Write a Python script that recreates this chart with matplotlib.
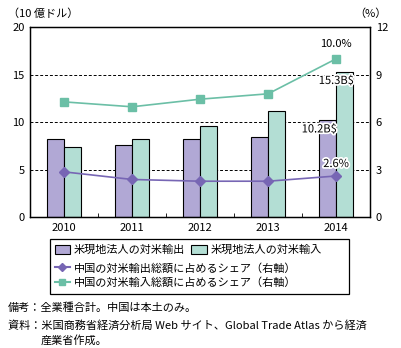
"""China-related US affiliate trade with the US, bars plus share lines on a twin axis."""

import matplotlib.pyplot as plt
import matplotlib.patheffects as pe
from matplotlib.lines import Line2D
from matplotlib.patches import Patch
import numpy as np

plt.rcParams['font.family'] = ['Noto Sans CJK JP', 'DejaVu Sans']
plt.rcParams['font.size'] = 8

YEARS = ["2010", "2011", "2012", "2013", "2014"]
EXPORTS = [8.2, 7.6, 8.2, 8.4, 10.2]      # 10億ドル
IMPORTS = [7.4, 8.2, 9.6, 11.2, 15.3]     # 10億ドル
EXPORT_SHARE = [2.86, 2.38, 2.27, 2.27, 2.6]   # %
IMPORT_SHARE = [7.28, 6.97, 7.45, 7.79, 10.0]  # %

C_EXP_BAR = "#b1a8d5"
C_IMP_BAR = "#b3ded4"
C_EXP_LINE = "#7766b4"
C_IMP_LINE = "#6bbfa6"

fig = plt.figure(figsize=(4.01, 3.48), dpi=100)
ax = fig.add_axes([0.075, 0.376, 0.848, 0.546])
ax2 = ax.twinx()

x = np.arange(len(YEARS))
w = 0.25
ax.bar(x - w / 2, EXPORTS, w, color=C_EXP_BAR, edgecolor="black", linewidth=0.8, zorder=2)
ax.bar(x + w / 2, IMPORTS, w, color=C_IMP_BAR, edgecolor="black", linewidth=0.8, zorder=2)

ax.set_ylim(0, 20)
ax.set_yticks([0, 5, 10, 15, 20])
ax.set_xlim(-0.5, 4.5)
ax.set_xticks(x)
ax.set_xticklabels(YEARS)
ax.set_xticks(np.arange(-0.5, 5.0, 1.0), minor=True)
ax.tick_params(axis="x", which="major", length=0, pad=4)
ax.tick_params(axis="x", which="minor", length=3, direction="in")
ax.tick_params(axis="y", length=0, pad=4)
for yv in [5, 10, 15]:
    ax.axhline(yv, color="black", linestyle=(0, (3, 2)), linewidth=0.7, zorder=1)

ax2.plot(x, EXPORT_SHARE, color=C_EXP_LINE, marker="D", markersize=5, linewidth=1.2, zorder=3)
ax2.plot(x, IMPORT_SHARE, color=C_IMP_LINE, marker="s", markersize=6, linewidth=1.2, zorder=3)
ax2.set_ylim(0, 12)
ax2.set_yticks([0, 3, 6, 9, 12])
ax2.tick_params(axis="y", length=0, pad=4)
ax.set_zorder(ax2.get_zorder() - 1)
ax.patch.set_visible(True)
ax2.patch.set_visible(False)

for a in (ax, ax2):
    for s in a.spines.values():
        s.set_linewidth(0.9)

halo = [pe.withStroke(linewidth=2.5, foreground="white")]
ax2.annotate(f"{IMPORT_SHARE[4]:.1f}%", (x[4], IMPORT_SHARE[4]), xytext=(0, 7),
             textcoords="offset points", ha="center", va="bottom", fontsize=8)
ax2.annotate(f"{EXPORT_SHARE[4]:.1f}%", (x[4], EXPORT_SHARE[4]), xytext=(0, 5),
             textcoords="offset points", ha="center", va="bottom", fontsize=8,
             path_effects=halo)
ax.annotate(f"{IMPORTS[4]:.1f}B$", (x[4] + w / 2, IMPORTS[4]), xytext=(-6, -3),
            textcoords="offset points", ha="center", va="top", fontsize=8,
            path_effects=halo, zorder=5)
ax.annotate(f"{EXPORTS[4]:.1f}B$", (x[4] - w / 2, EXPORTS[4]), xytext=(-6, -3),
            textcoords="offset points", ha="center", va="top", fontsize=8,
            path_effects=halo, zorder=5)

fig.text(0.02, 0.945, "（10 億ドル）", fontsize=8, va="bottom")
fig.text(0.965, 0.945, "（%）", fontsize=8, va="bottom", ha="right")

handles = [
    Patch(facecolor=C_EXP_BAR, edgecolor="black", linewidth=0.8, label="米現地法人の対米輸出"),
    Patch(facecolor=C_IMP_BAR, edgecolor="black", linewidth=0.8, label="米現地法人の対米輸入"),
    Line2D([], [], color=C_EXP_LINE, marker="D", markersize=4, label="中国の対米輸出総額に占めるシェア（右軸）"),
    Line2D([], [], color=C_IMP_LINE, marker="s", markersize=5, label="中国の対米輸入総額に占めるシェア（右軸）"),
]
fig.legend(handles[:2], [h.get_label() for h in handles[:2]], ncol=2,
           loc="upper left", bbox_to_anchor=(0.125, 0.31), frameon=False,
           handlelength=1.4, handleheight=0.9, handletextpad=0.3,
           columnspacing=0.6, borderaxespad=0, fontsize=8)
fig.legend(handles[2:], [h.get_label() for h in handles[2:]],
           loc="upper left", bbox_to_anchor=(0.125, 0.258), frameon=False,
           handlelength=1.4, handletextpad=0.3, borderaxespad=0,
           labelspacing=0.3, fontsize=8)
fig.add_artist(plt.Rectangle((0.125, 0.155), 0.745, 0.158, transform=fig.transFigure,
                             fill=False, edgecolor="black", linewidth=0.9))

fig.text(0.02, 0.115, "備考：全業種合計。中国は本土のみ。", fontsize=8, va="center")
fig.text(0.02, 0.066, "資料：米国商務省経済分析局 Web サイト、Global Trade Atlas から経済", fontsize=8, va="center")
fig.text(0.102, 0.021, "産業省作成。", fontsize=8, va="center")

fig.savefig("out.png", dpi=100)
